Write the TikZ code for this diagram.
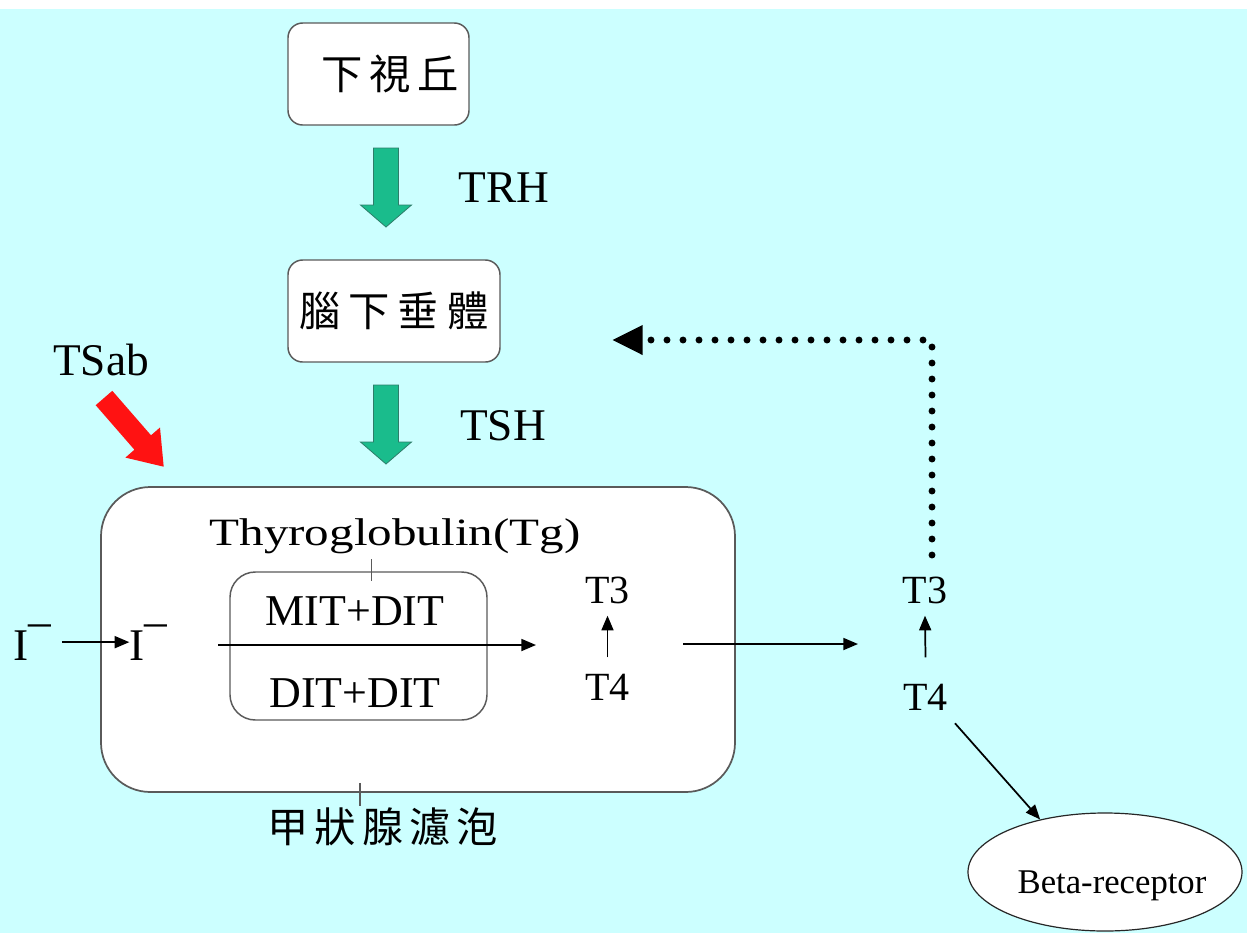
\documentclass[tikz,border=0pt]{standalone}
\usepackage{fontspec}
\usepackage{graphicx}
\setmainfont{Liberation Serif}
\newfontfamily\cjk{Noto Sans CJK TC}
\usetikzlibrary{arrows.meta,calc,shapes.geometric}
\definecolor{bgcyan}{RGB}{204,255,255}
\definecolor{hgreen}{RGB}{26,188,140}
\definecolor{hgreenline}{RGB}{45,125,105}
\definecolor{tsred}{RGB}{255,18,18}
\definecolor{boxline}{RGB}{90,90,90}
\begin{document}
\begin{tikzpicture}[x=0.75pt,y=-0.75pt,
  rbox/.style={draw=boxline,line width=1.1pt,fill=white,rounded corners=11pt,inner sep=0pt},
  cjklbl/.style={font=\cjk\fontsize{31}{36}\selectfont},
  biglbl/.style={inner sep=0pt,anchor=base,font=\fontsize{34}{40}\selectfont},
  tlbl/.style={inner sep=0pt,anchor=base,font=\fontsize{30}{36}\selectfont},
  thin/.style={line width=1.3pt,-{Triangle[length=11pt,width=9pt]}},
  tick/.style={draw=boxline,line width=1.1pt},
  garrow/.pic={\filldraw[fill=hgreen,draw=hgreenline,line width=0.6pt]
      (-12.5,0) -- (12.5,0) -- (12.5,57) -- (25.5,57) -- (0,79) -- (-25.5,57) -- (-12.5,57) -- cycle;},
  feedback/.style={line width=5.2pt,line cap=round,dash pattern=on 0pt off 12pt,-{Triangle[length=23pt,width=21pt]}}
]
\useasboundingbox (0,0) rectangle (1247,933);
\fill[white] (0,0) rectangle (1247,9);
\fill[bgcyan] (0,9) rectangle (1247,933);

% hypothalamus and pituitary
\node[rbox,minimum width=135.75pt,minimum height=76.5pt,cjklbl] (hyp) at (378.5,74) {\hspace*{17pt}下\hspace{5pt}視\hspace{5pt}丘};
\node[rbox,minimum width=159pt,minimum height=76.5pt,cjklbl] (pit) at (394,311) {腦\hspace{6pt}下\hspace{6pt}垂\hspace{6pt}體};

\pic at (386,148) {garrow};
\node[biglbl] (trh) at (504,202) {TRH};
\pic at (386,385) {garrow};
\node[biglbl] (tsh) at (503,440) {TSH};

% TSab
\node[biglbl] (tsab) at (101,375) {TSab};
\fill[tsred] (95.7,405.2) -- (134.4,449.7) -- (125.4,457.6) -- (163.7,466.7) -- (160.0,427.5) -- (151.0,435.3) -- (112.3,390.8) -- cycle;

% thyroid follicle
\node[rbox,rounded corners=37pt,line width=1.3pt,minimum width=475.5pt,minimum height=228.75pt] (thy) at (418,639.5) {};
\node[inner sep=0pt,anchor=base,font=\fontsize{29}{34}\selectfont] (tg) at (395,545) {\scalebox{1.27}[1]{Thyroglobulin(Tg)}};
\node[rbox,rounded corners=19pt,minimum width=192.75pt,minimum height=111pt] (inner) at (358.5,646) {};
\draw[tick] ($(inner.north)+(13,-12)$) -- ++(0,22);
\node[biglbl,font=\fontsize{33}{38}\selectfont] (mit) at (355,625) {MIT+DIT};
\node[biglbl,font=\fontsize{33}{38}\selectfont] (dit) at (355,707) {DIT+DIT};

% iodide
\node[biglbl] (iout) at (32,660) {I\raisebox{18pt}{–}};
\node[biglbl] (iin) at (148.5,660) {I\raisebox{18pt}{–}};
\draw[thin,shorten <=8pt] (iout.east) -- (iin.west);

\coordinate (pa) at (218,645);
\coordinate (pb) at (536,645);
\draw[thin] (pa) -- (pb);

% T3 / T4 inside
\node[tlbl] (t3i) at (607.5,603) {T3};
\node[tlbl] (t4i) at (607.5,700) {T4};
\draw[thin] ([yshift=12pt]t4i.north) -- ([yshift=-9pt]t3i.south);

\coordinate (ha) at (683,644);
\coordinate (hb) at (858,644);
\draw[thin] (ha) -- (hb);

% T3 / T4 outside
\node[tlbl] (t3o) at (925,603) {T3};
\node[tlbl] (t4o) at (925.5,710) {T4};
\draw[thin] ([yshift=19.5pt]t4o.north) -- ([yshift=-9pt]t3o.south);

% feedback
\coordinate (fa) at (932,555);
\coordinate (fb) at (612,340);
\draw[feedback] (fa) |- (fb);

% follicle label
\draw[tick] ($(thy.south)+(-58,-10)$) -- ++(0,23);
\node[cjklbl] (thylbl) at (383,827) {甲\hspace{4.5pt}狀\hspace{4.5pt}腺\hspace{4.5pt}濾\hspace{4.5pt}泡};

% beta receptor
\node[ellipse,draw=black!85,line width=0.9pt,fill=white,minimum width=205.5pt,minimum height=88.5pt,inner sep=0pt] (beta) at (1105,872) {};
\node[inner sep=0pt,anchor=base,font=\fontsize{26}{30}\selectfont] (betatext) at (1112,893) {Beta-receptor};
\draw[thin] ($(t4o.south east)+(7,13)$) -- (beta.141);
\end{tikzpicture}
\end{document}
